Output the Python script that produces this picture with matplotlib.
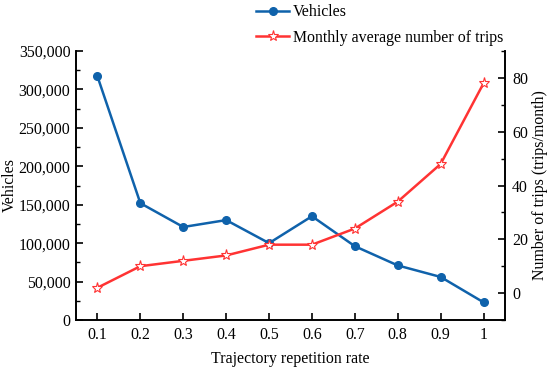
import matplotlib
matplotlib.use("Agg")
import matplotlib.pyplot as plt
from matplotlib.ticker import FuncFormatter, MultipleLocator

plt.rcParams['font.family'] = ['Liberation Serif', 'DejaVu Serif']
plt.rcParams['font.size'] = 11.4

# donnees
taux = [0.1, 0.2, 0.3, 0.4, 0.5, 0.6, 0.7, 0.8, 0.9, 1.0]
etiquettes_x = ['0.1', '0.2', '0.3', '0.4', '0.5', '0.6', '0.7', '0.8', '0.9', '1']
vehicules = [317000, 152000, 121000, 130000, 100000, 135000, 96000, 71000, 56000, 23000]
trajets = [2, 10, 12, 14, 18, 18, 24, 34, 48, 78]

bleu = '#0f62ab'
rouge = '#ff3333'

fig = plt.figure(figsize=(5.5, 3.7), dpi=100)
ax = fig.add_axes([76 / 550, 50 / 370, 429 / 550, 269 / 370])
ax2 = ax.twinx()

l1, = ax.plot(taux, vehicules, color=bleu, lw=1.8, marker='o', ms=5.5,
              markerfacecolor=bleu, markeredgecolor=bleu, label='Vehicles')
l2, = ax2.plot(taux, trajets, color=rouge, lw=1.8, marker='*', ms=8,
               markerfacecolor='white', markeredgecolor=rouge, markeredgewidth=0.8,
               label='Monthly average number of trips')

ax.set_xlim(0.05, 1.05)
ax.set_xticks(taux)
ax.set_xticklabels(etiquettes_x)
ax.set_ylim(0, 350000)
ax.yaxis.set_major_locator(MultipleLocator(50000))
ax.yaxis.set_minor_locator(MultipleLocator(25000))
ax.yaxis.set_major_formatter(FuncFormatter(lambda v, p: f"{int(v):,}"))
ax2.set_ylim(-10, 90)
ax2.yaxis.set_major_locator(MultipleLocator(20))
ax2.yaxis.set_minor_locator(MultipleLocator(10))

for a in (ax, ax2):
    a.spines['top'].set_visible(False)
    for s in a.spines.values():
        s.set_linewidth(1.2)
    a.tick_params(which='major', direction='in', length=5, width=1.2, pad=4)
    a.tick_params(which='minor', direction='in', length=3, width=1.0)
ax.tick_params(axis='x', pad=5)
ax2.tick_params(axis='y', pad=5)

ax.set_xlabel('Trajectory repetition rate')
ax.xaxis.set_label_coords(0.5, -31 / 269)
ax.set_ylabel('Vehicles')
ax.yaxis.set_label_coords(-58 / 429, 0.5)
ax2.set_ylabel('Number of trips (trips/month)')
ax2.yaxis.set_label_coords(1 + 27 / 429, 0.5)

fig.legend(handles=[l1, l2], loc='upper left', bbox_to_anchor=(248 / 550, 1.01),
           frameon=False, fontsize=11.4, labelspacing=0.6, handlelength=2.1,
           handletextpad=0.25, borderaxespad=0.1)

fig.savefig('out.png', dpi=100)
